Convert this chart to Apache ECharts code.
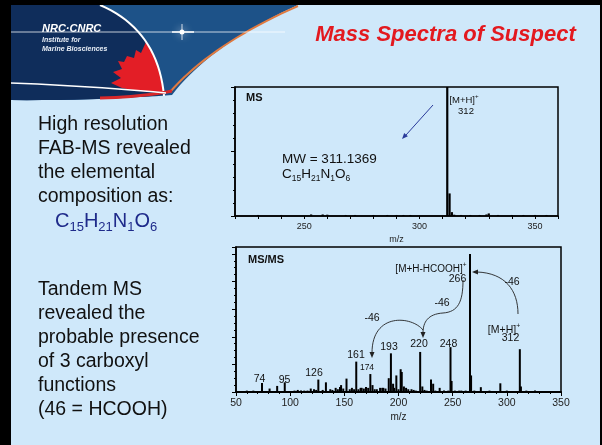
<!DOCTYPE html>
<html><head><meta charset="utf-8">
<script src="https://cdn.jsdelivr.net/npm/echarts@6/dist/echarts.min.js"></script>
<style>html,body{margin:0;padding:0;background:#cfe8fa;}#c{width:602px;height:445px;}</style>
</head><body><div id="c"></div>
<script>
// ---- data ----
const msMz  = [230,240,253,258,260,268,272,280,286,290,293,296,312,313,314,315,318,322,326,329,330,334,340,345,350,355];
const msInt = [0.8,0.8,1.2,1.2,1,0.8,0.8,0.8,0.8,0.8,0.8,0.8,100,17.5,3,1,0.8,0.8,0.8,1.2,2,0.8,0.8,0.8,0.8,0.8];
const msTickLabels = [250,300,350];

const msmsMz  = [60,66,74,81,88,95,104,107,110,113,116,119,122,124,126,130,133,137,139,142,144,146,147,149,152,155,157,159,161,163,165,166,168,170,172,174,176,178,180,183,185,186,188,191,193,195,196,198,200,202,203,205,207,209,212,214,216,220,222,224,226,230,232,234,238,242,246,248,249,252,256,258,262,266,267,270,276,284,294,300,312,313,318,326];
const msmsInt = [1,1,6.5,2.5,4.4,7,1,1.5,1,1,1,2.5,2,1.5,9,1.5,7,2,1.5,3,2,3.6,5,2.5,9.7,2,3,2,22,2,3,3,2.5,3.6,3,13,5,2,2,3,3,3,2.5,10,28,6,3,12,2,16.5,14.5,4,3,2,2,1.5,1,29,4,1.5,1,9,6,1,3,1,1,32.5,8,1,1,1,1,100,12,1,3.5,1,6.3,1,31,4,1,1];
const msmsTickLabels = [50,100,150,200,250,300,350];

const leftLines1 = ["High resolution","FAB-MS revealed","the elemental","composition as:"];
const leftLines2 = ["Tandem MS","revealed the","probable presence","of 3 carboxyl","functions","(46 = HCOOH)"];
const titleText = "Mass Spectra of Suspect";

// ---- helpers ----
const FF = "'Liberation Sans', Arial, sans-serif";
function T(text, x, y, o) {
  o = o || {};
  return {type:'text', x:x, y:y, z:o.z||50, silent:true,
    style:{text:text, fill:o.color||'#111', fontSize:o.size||10, fontFamily:FF,
      fontWeight:o.weight||'normal', fontStyle:o.style||'normal',
      align:o.align||'center', verticalAlign:o.va||'middle',
      textAlign:o.align||'center', textVerticalAlign:o.va||'middle', rich:o.rich}};
}
function qpts(x0,y0,cx,cy,x1,y1,n){const a=[];for(let i=0;i<=n;i++){const t=i/n;a.push([(1-t)*(1-t)*x0+2*(1-t)*t*cx+t*t*x1,(1-t)*(1-t)*y0+2*(1-t)*t*cy+t*t*y1]);}return a;}
function poly(points, fill, z){return {type:'polygon', z:z||1, silent:true, shape:{points:points}, style:{fill:fill}};}
function pline(points, stroke, w, z){return {type:'polyline', z:z||2, silent:true, shape:{points:points}, style:{stroke:stroke, lineWidth:w, fill:null}};}
function bez(x1,y1,c1x,c1y,c2x,c2y,x2,y2){return {type:'bezierCurve', z:40, silent:true, shape:{x1:x1,y1:y1,cpx1:c1x,cpy1:c1y,cpx2:c2x,cpy2:c2y,x2:x2,y2:y2}, style:{stroke:'#222', lineWidth:0.9, fill:null}};}
function rect(x,y,w,h,fill,z){return {type:'rect', z:z||1, silent:true, shape:{x:x,y:y,width:w,height:h}, style:{fill:fill}};}

function formula(x, y, big, small, color) {
  return T('{n|C}{s|15}{n|H}{s|21}{n|N}{s|1}{n|O}{s|6}', x, y, {align:'left', va:'middle', color:color,
    rich:{n:{fontSize:big, fontFamily:FF, fill:color, color:color, lineHeight:big, verticalAlign:'top'},
          s:{fontSize:small, fontFamily:FF, fill:color, color:color, lineHeight:small, padding:[Math.round(big*0.5),0,0,0], verticalAlign:'top'}}});
}
function ion(text, x, y, size) {
  return T('{n|' + text + '}{p|+}', x, y, {align:'center', va:'middle',
    rich:{n:{fontSize:size, fontFamily:FF, color:'#111', lineHeight:size, verticalAlign:'top', padding:[2,0,0,0]},
          p:{fontSize:size*0.65, fontFamily:FF, color:'#111', lineHeight:size*0.65, verticalAlign:'top'}}});
}

// ---- decorations ----
const g = [];
g.push(rect(0,0,602,5,'#000',60));
g.push(rect(0,0,11,445,'#000',60));
g.push(rect(600,0,2,445,'#000',60));
// header swoosh
g.push(poly([[11,5],[298,5]].concat(qpts(298,5,210,45,172,95,20)).concat(qpts(172,95,90,101,11,100,10)), '#1d5288', 1));
g.push(poly([[11,5],[100,5]].concat(qpts(100,5,158,30,164,95,20)).concat(qpts(164,95,90,101,11,100,10)), '#0f2d5b', 2));
g.push(poly([[146,42],[141,53],[136,50],[134,58],[127,56],[124,62],[118,61],[122,69],[113,72],[121,78],[111,83],[122,88],[138,91],[164,92],[161,77],[156,60]], '#e31e26', 3));
g.push(pline(qpts(100,5,158,30,164,96,20), '#ffffff', 2, 4));
g.push(pline(qpts(298,6,212,44,170,92,20), '#e07a40', 2, 4));
g.push(pline(qpts(100,98,140,97,172,91,10), '#d8282a', 3, 4));
g.push(pline(qpts(11,83,90,86,166,93,12), '#ffffff', 1.5, 5));
g.push({type:'line', z:5, silent:true, shape:{x1:11,y1:32,x2:285,y2:32}, style:{stroke:'rgba(255,255,255,0.75)', lineWidth:1}});
g.push({type:'circle', z:6, silent:true, shape:{cx:182,cy:32,r:2.5}, style:{fill:'#fff', shadowBlur:8, shadowColor:'#fff'}});
g.push({type:'line', z:6, silent:true, shape:{x1:182,y1:24,x2:182,y2:40}, style:{stroke:'rgba(255,255,255,0.8)', lineWidth:1}});
g.push({type:'line', z:6, silent:true, shape:{x1:172,y1:32,x2:194,y2:32}, style:{stroke:'#fff', lineWidth:1.5}});
g.push(T('NRC·CNRC', 42, 29, {align:'left', size:11, weight:'bold', style:'italic', color:'#ffffff', z:7}));
g.push(T('Institute for', 42, 40, {align:'left', size:7, weight:'bold', style:'italic', color:'#e8eef6', z:7}));
g.push(T('Marine Biosciences', 42, 49.5, {align:'left', size:7, weight:'bold', style:'italic', color:'#e8eef6', z:7}));
g.push(T(titleText, 445.5, 35, {size:22, weight:'bold', style:'italic', color:'#e3191f'}));

// left text
leftLines1.forEach((s,i)=>g.push(T(s, 38, 125+24*i, {align:'left', size:19.5})));
g.push(formula(55, 221, 20, 13, '#1e2a8a'));
leftLines2.forEach((s,i)=>g.push(T(s, 38, 290+24*i, {align:'left', size:19.5})));

// MS annotations
g.push(T('MS', 246, 98, {align:'left', size:11, weight:'bold'}));
g.push(ion('[M+H]', 464, 98, 9.5));
g.push(T('312', 466, 111, {size:9.5}));
g.push({type:'line', z:40, silent:true, shape:{x1:433,y1:105,x2:406,y2:135}, style:{stroke:'#2a3a9a', lineWidth:1}});
g.push({type:'polygon', z:40, silent:true, shape:{points:[[402,139],[407.9,136.3],[404.2,132.9]]}, style:{fill:'#2a3a9a'}});
g.push(T('MW = 311.1369', 282, 159, {align:'left', size:13.5}));
g.push(formula(282, 174, 13.5, 8.5, '#111'));

// MS/MS annotations
g.push(T('MS/MS', 248, 260, {align:'left', size:11, weight:'bold'}));
g.push(ion('[M+H-HCOOH]', 431, 267, 10));
g.push(T('266', 457.5, 279, {size:10.5}));
g.push(T('-46', 512, 282, {size:10.5}));
g.push(T('-46', 442, 303, {size:10.5}));
g.push(T('-46', 372, 318, {size:10.5}));
g.push(ion('[M+H]', 504, 328, 10.5));
g.push(T('312', 510.5, 338, {size:10.5}));
g.push(T('248', 448.5, 344, {size:10.5}));
g.push(T('220', 419, 344.5, {size:10.5}));
g.push(T('193', 389, 347.5, {size:10.5}));
g.push(T('161', 356, 355.5, {size:10.5}));
g.push(T('174', 367, 368, {size:8.5}));
g.push(T('126', 314, 373.5, {size:10.5}));
g.push(T('95', 284.5, 380, {size:10.5}));
g.push(T('74', 259.5, 379, {size:10.5}));
// curved arrows
g.push(bez(518,314, 518,290, 505,273, 477,272));
g.push({type:'polygon', z:40, silent:true, shape:{points:[[472,272],[478,269.5],[478,274.5]]}, style:{fill:'#222'}});
g.push(bez(463,280, 463,302, 458,312, 443,313));
g.push(bez(443,313, 428,314, 423,322, 423,333));
g.push({type:'polygon', z:40, silent:true, shape:{points:[[423,338],[420.5,332],[425.5,332]]}, style:{fill:'#222'}});
g.push(bez(423,330, 412,316, 372,312, 372,353));
g.push({type:'polygon', z:40, silent:true, shape:{points:[[372,358],[369.5,352],[374.5,352]]}, style:{fill:'#222'}});

const axisCommon = {
  axisLine:{show:true, onZero:false, lineStyle:{color:'#000', width:1.5}},
  splitLine:{show:false}
};

const option = {
  animation:false,
  backgroundColor:'#cfe8fa',
  grid:[
    {left:235, top:87, width:323, height:129, show:true, borderColor:'#000', borderWidth:1.5, backgroundColor:'rgba(0,0,0,0)', z:10},
    {left:236, top:247, width:325, height:145, show:true, borderColor:'#000', borderWidth:1.5, backgroundColor:'rgba(0,0,0,0)', z:10}
  ],
  xAxis:[
    Object.assign({}, axisCommon, {type:'value', gridIndex:0, min:220, max:360, interval:10,
      axisTick:{show:true, length:3, lineStyle:{color:'#000'}},
      axisLabel:{fontSize:9, color:'#222', fontFamily:FF, margin:6, formatter:v=>msTickLabels.includes(v)?String(v):''},
      name:'m/z', nameLocation:'middle', nameGap:19, nameTextStyle:{fontSize:9, color:'#222', fontFamily:FF}}),
    Object.assign({}, axisCommon, {type:'value', gridIndex:1, min:50, max:350, interval:50,
      axisLine:{show:true, onZero:false, lineStyle:{color:'#000', width:2}},
      axisTick:{show:true, length:4, lineStyle:{color:'#000'}},
      minorTick:{show:true, splitNumber:5, length:2, lineStyle:{color:'#000'}},
      axisLabel:{fontSize:10.5, color:'#222', fontFamily:FF, margin:6, formatter:v=>msmsTickLabels.includes(v)?String(v):''},
      name:'m/z', nameLocation:'middle', nameGap:20, nameTextStyle:{fontSize:10, color:'#222', fontFamily:FF}})
  ],
  yAxis:[
    Object.assign({}, axisCommon, {type:'value', gridIndex:0, min:0, max:100, interval:50,
      axisTick:{show:true, length:4, lineStyle:{color:'#000'}},
      minorTick:{show:true, splitNumber:5, length:2, lineStyle:{color:'#000'}},
      axisLabel:{show:false}}),
    Object.assign({}, axisCommon, {type:'value', gridIndex:1, min:0, max:105, interval:20,
      axisTick:{show:true, length:4, lineStyle:{color:'#000'}},
      minorTick:{show:true, splitNumber:4, length:2, lineStyle:{color:'#000'}},
      axisLabel:{show:false}})
  ],
  series:[
    {type:'bar', xAxisIndex:0, yAxisIndex:0, barWidth:2.2, itemStyle:{color:'#000'}, silent:true,
      data: msMz.map((m,i)=>[m, msInt[i]])},
    {type:'bar', xAxisIndex:1, yAxisIndex:1, barWidth:2, itemStyle:{color:'#000'}, silent:true,
      data: msmsMz.map((m,i)=>[m, msmsInt[i]])}
  ],
  graphic:{elements:g}
};
const chart = echarts.init(document.getElementById('c'), null, {renderer:'canvas'});
chart.setOption(option);
</script></body></html>
